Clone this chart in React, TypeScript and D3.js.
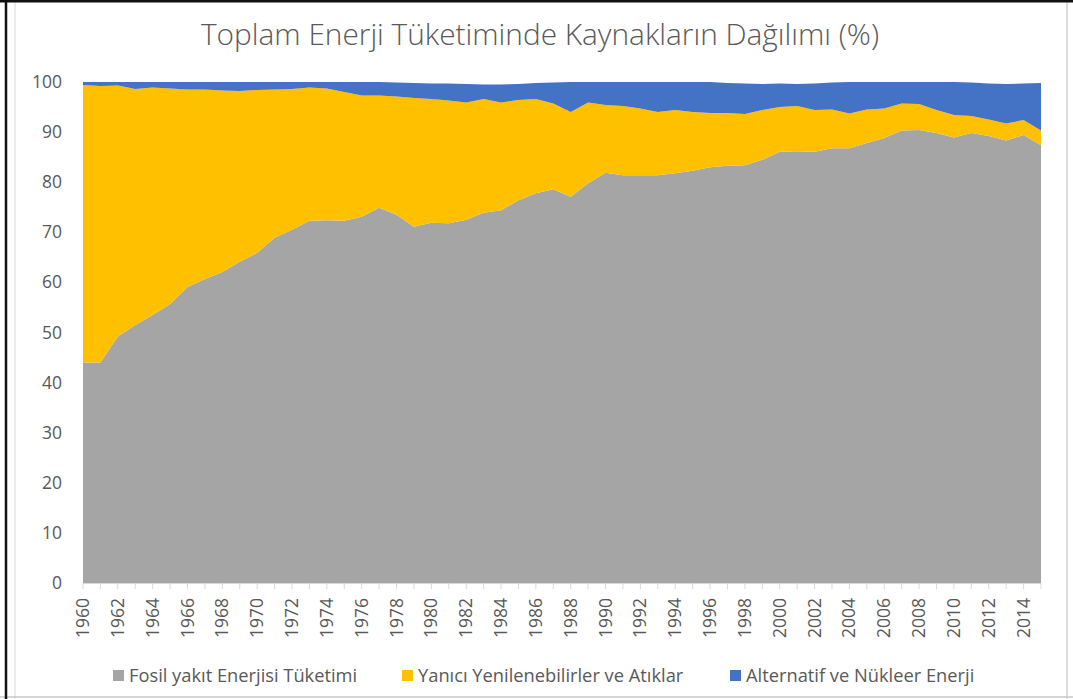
import { useEffect, useRef } from "react";
import * as d3 from "d3";

const years = d3.range(1960, 2016);

// Fosil yakıt Enerjisi Tüketimi (%)
const fosil = [
  44.0, 44.0, 49.2, 51.5, 53.5, 55.7, 59.1, 60.7, 62.1, 64.1,
  65.9, 68.9, 70.5, 72.3, 72.4, 72.3, 73.1, 74.9, 73.5, 71.1,
  71.9, 71.8, 72.5, 73.9, 74.4, 76.4, 77.8, 78.6, 77.1, 79.8,
  81.9, 81.4, 81.4, 81.4, 81.8, 82.3, 83.0, 83.3, 83.4, 84.5,
  86.1, 86.2, 86.1, 86.8, 86.8, 87.8, 88.8, 90.3, 90.4, 89.8,
  88.9, 89.8, 89.2, 88.3, 89.4, 87.4,
];

// Yanıcı Yenilenebilirler ve Atıklar (%)
const yanici = [
  55.4, 55.2, 50.1, 47.1, 45.4, 43.0, 39.4, 37.8, 36.2, 34.1,
  32.5, 29.6, 28.1, 26.6, 26.3, 25.7, 24.2, 22.4, 23.6, 25.7,
  24.7, 24.5, 23.4, 22.7, 21.5, 20.0, 18.8, 17.1, 16.9, 16.1,
  13.5, 13.8, 13.3, 12.6, 12.6, 11.7, 10.8, 10.5, 10.2, 9.9,
  8.9, 9.0, 8.3, 7.7, 6.9, 6.7, 5.9, 5.4, 5.2, 4.6,
  4.5, 3.4, 3.3, 3.4, 3.0, 2.9,
];

// Alternatif ve Nükleer Enerji (%)
const alternatif = [
  0.6, 0.8, 0.7, 1.4, 1.1, 1.3, 1.5, 1.5, 1.7, 1.8,
  1.6, 1.5, 1.4, 1.1, 1.3, 2.0, 2.7, 2.7, 2.8, 3.0,
  3.1, 3.4, 3.7, 2.9, 3.6, 3.2, 3.2, 4.2, 6.0, 4.1,
  4.6, 4.8, 5.3, 6.0, 5.6, 6.0, 6.2, 6.0, 6.1, 5.2,
  4.7, 4.4, 5.3, 5.4, 6.3, 5.5, 5.3, 4.3, 4.4, 5.6,
  6.6, 6.7, 7.2, 7.9, 7.3, 9.5,
];

const seriesKeys = ["fosil", "yanici", "alternatif"];
const seriesNames = [
  "Fosil yakıt Enerjisi Tüketimi",
  "Yanıcı Yenilenebilirler ve Atıklar",
  "Alternatif ve Nükleer Enerji",
];
const colors = ["#A5A5A5", "#FFC000", "#4472C4"];
const yTicks = [0, 10, 20, 30, 40, 50, 60, 70, 80, 90, 100];

const W = 1073;
const H = 699;
const font = "'Open Sans', Lato, sans-serif";

export default function App() {
  const svgRef = useRef<SVGSVGElement>(null);

  useEffect(() => {
    const svg = d3.select(svgRef.current);
    svg.selectAll("*").remove();

    const rows = years.map((y, i) => ({
      year: y,
      fosil: fosil[i],
      yanici: yanici[i],
      alternatif: alternatif[i],
    }));

    const x = d3.scaleLinear().domain([1960, 2015]).range([83, 1041]);
    const y = d3.scaleLinear().domain([0, 100]).range([583, 82]);

    // frame
    svg.append("rect").attr("width", W).attr("height", H).attr("fill", "#fff");
    svg.append("line").attr("x1", 15).attr("x2", 15).attr("y1", 0).attr("y2", H)
      .attr("stroke", "#d9d9d9").attr("stroke-width", 1);
    svg.append("line").attr("x1", 1067).attr("x2", 1067).attr("y1", 0).attr("y2", H)
      .attr("stroke", "#d0d0d0").attr("stroke-width", 1.5);
    svg.append("line").attr("x1", 0).attr("x2", W).attr("y1", 697).attr("y2", 697)
      .attr("stroke", "#c8c8c8").attr("stroke-width", 1.5);
    svg.append("line").attr("x1", 0).attr("x2", W).attr("y1", 1).attr("y2", 1)
      .attr("stroke", "#111").attr("stroke-width", 3);
    svg.append("line").attr("x1", 6).attr("x2", 6).attr("y1", 0).attr("y2", H)
      .attr("stroke", "#111").attr("stroke-width", 2.5);

    svg.append("text")
      .attr("x", 540).attr("y", 45)
      .attr("text-anchor", "middle")
      .attr("font-family", font).attr("font-weight", 300)
      .attr("font-size", 29).attr("fill", "#595959")
      .attr("textLength", 678).attr("lengthAdjust", "spacingAndGlyphs")
      .text("Toplam Enerji Tüketiminde Kaynakların Dağılımı (%)");

    const stack = d3.stack<any>().keys(seriesKeys);
    const layers = stack(rows);

    const area = d3.area<any>()
      .x((d) => x(d.data.year))
      .y0((d) => y(d[0]))
      .y1((d) => y(d[1]));

    svg.append("g")
      .selectAll("path")
      .data(layers)
      .join("path")
      .attr("d", area)
      .attr("fill", (_d, i) => colors[i]);

    // x axis line + ticks
    const xa = svg.append("g");
    xa.append("line").attr("x1", 83).attr("x2", 1041).attr("y1", 583.5).attr("y2", 583.5)
      .attr("stroke", "#d9d9d9");
    xa.selectAll("line.t")
      .data(years)
      .join("line")
      .attr("class", "t")
      .attr("x1", (d) => x(d)).attr("x2", (d) => x(d))
      .attr("y1", 583).attr("y2", 589)
      .attr("stroke", "#d9d9d9");
    xa.selectAll("text")
      .data(years.filter((d) => d % 2 === 0))
      .join("text")
      .attr("transform", (d) => `translate(${x(d) + 6},598) rotate(-90)`)
      .attr("text-anchor", "end")
      .attr("font-family", font).attr("font-size", 17.5).attr("fill", "#595959")
      .text((d) => d);

    svg.append("g")
      .selectAll("text")
      .data(yTicks)
      .join("text")
      .attr("x", 62).attr("y", (d) => y(d) + 6)
      .attr("text-anchor", "end")
      .attr("font-family", font).attr("font-size", 17.5).attr("fill", "#595959")
      .text((d) => d);

    // legend
    const legX = [113, 402, 730];
    const leg = svg.append("g")
      .selectAll("g")
      .data(seriesNames)
      .join("g")
      .attr("transform", (_d, i) => `translate(${legX[i]},670)`);
    leg.append("rect").attr("width", 11).attr("height", 11)
      .attr("fill", (_d, i) => colors[i]);
    leg.append("text").attr("x", 16).attr("y", 12)
      .attr("font-family", font).attr("font-size", 18.3).attr("fill", "#595959")
      .text((d) => d);
  }, []);

  return (
    <svg
      ref={svgRef}
      width={W}
      height={H}
      style={{ position: "absolute", left: 0, top: 0 }}
    />
  );
}
